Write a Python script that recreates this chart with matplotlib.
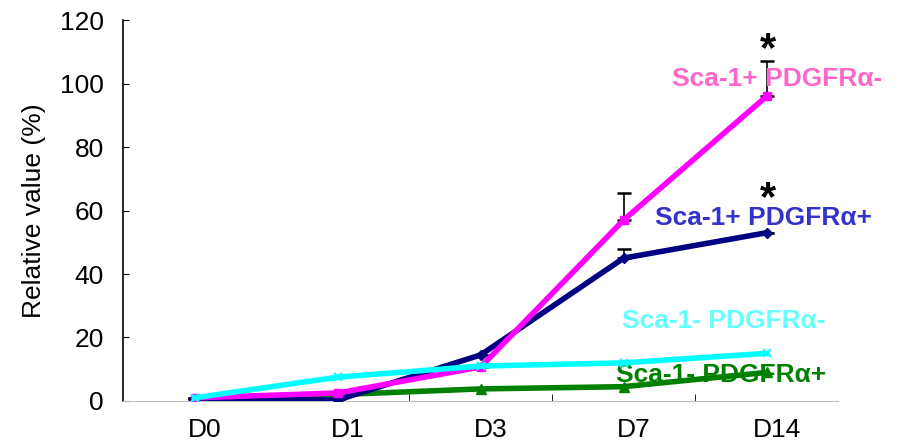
import numpy as np
import matplotlib.pyplot as plt
import matplotlib.transforms as mtransforms

plt.rcParams['font.family'] = ['Liberation Sans', 'DejaVu Sans']

days = ['D0', 'D1', 'D3', 'D7', 'D14']

# relative values (%) per population
pos_neg = [1.0, 2.5, 10.7, 57.0, 96.0]      # Sca-1+ PDGFRa-
pos_neg_err = [0, 0, 0, 8.5, 11.0]
pos_pos = [0.5, 0.3, 14.5, 45.0, 53.0]      # Sca-1+ PDGFRa+
pos_pos_err = [0, 0, 0, 3.0, 0]
neg_neg = [1.0, 7.5, 11.0, 12.0, 15.0]      # Sca-1- PDGFRa-
neg_pos = [0.5, 2.0, 3.8, 4.5, 9.0]         # Sca-1- PDGFRa+

x = np.arange(len(days))

fig = plt.figure(figsize=(9.06, 4.47), dpi=100)
ax = fig.add_axes([0.136, 0.103, 0.789, 0.852])

ax.errorbar(x, pos_neg, yerr=[np.zeros(5), pos_neg_err], fmt='none',
            ecolor='black', elinewidth=1.2, capsize=5, capthick=1.8, zorder=1)
ax.errorbar(x, pos_pos, yerr=[np.zeros(5), pos_pos_err], fmt='none',
            ecolor='black', elinewidth=1.2, capsize=5, capthick=1.8, zorder=1)

lw = 4
ax.plot(x, neg_pos, color='#008000', lw=lw, marker='^', markersize=7, zorder=2)
ax.plot(x, pos_pos, color='#000080', lw=lw, marker='D', markersize=5, zorder=3)
ax.plot(x, pos_neg, color='#FF00FF', lw=lw, marker='s', markersize=6, zorder=4)
ax.plot(x, neg_neg, color='#00FFFF', lw=lw, marker='x', markersize=6,
        markeredgewidth=1.5, zorder=5)

fs = 19
ax.text(3.34, 101.5, 'Sca-1+ PDGFRα-', color='#FF66CC', fontsize=fs,
        fontweight='bold', va='center')
ax.text(3.22, 57.5, 'Sca-1+ PDGFRα+', color='#3333CC', fontsize=fs,
        fontweight='bold', va='center')
ax.text(2.99, 25.2, 'Sca-1- PDGFRα-', color='#66FFFF', fontsize=fs,
        fontweight='bold', va='center')
ax.text(2.95, 8.2, 'Sca-1- PDGFRα+', color='#008000', fontsize=fs,
        fontweight='bold', va='center')
ax.text(4.01, 107, '*', fontsize=30, fontweight='bold', ha='center', va='baseline')
ax.text(4.01, 60, '*', fontsize=30, fontweight='bold', ha='center', va='baseline')

ax.set_xlim(-0.5, 4.5)
ax.set_ylim(0, 120)
ax.set_yticks(np.arange(0, 121, 20))
ax.set_xticks(x)
ax.set_xticklabels(days)
ax.set_xticks(np.arange(0.5, 4, 1), minor=True)
ax.tick_params(axis='x', which='major', length=0, labelsize=fs, pad=12)
ax.tick_params(axis='x', which='minor', length=5, direction='in', color='black')
ax.tick_params(axis='y', labelsize=fs, length=4, direction='in', pad=14)
ax.set_ylabel('Relative value (%)', fontsize=fs, labelpad=10)

# x labels sit a little right of the category centre
shift = mtransforms.ScaledTranslation(10 / 100, 0, fig.dpi_scale_trans)
for lab in ax.get_xticklabels():
    lab.set_transform(lab.get_transform() + shift)

ax.spines['top'].set_visible(False)
ax.spines['right'].set_visible(False)
ax.spines['bottom'].set_color('#c0c0c0')
ax.spines['left'].set_linewidth(1.2)

fig.savefig('out.png', dpi=100)
